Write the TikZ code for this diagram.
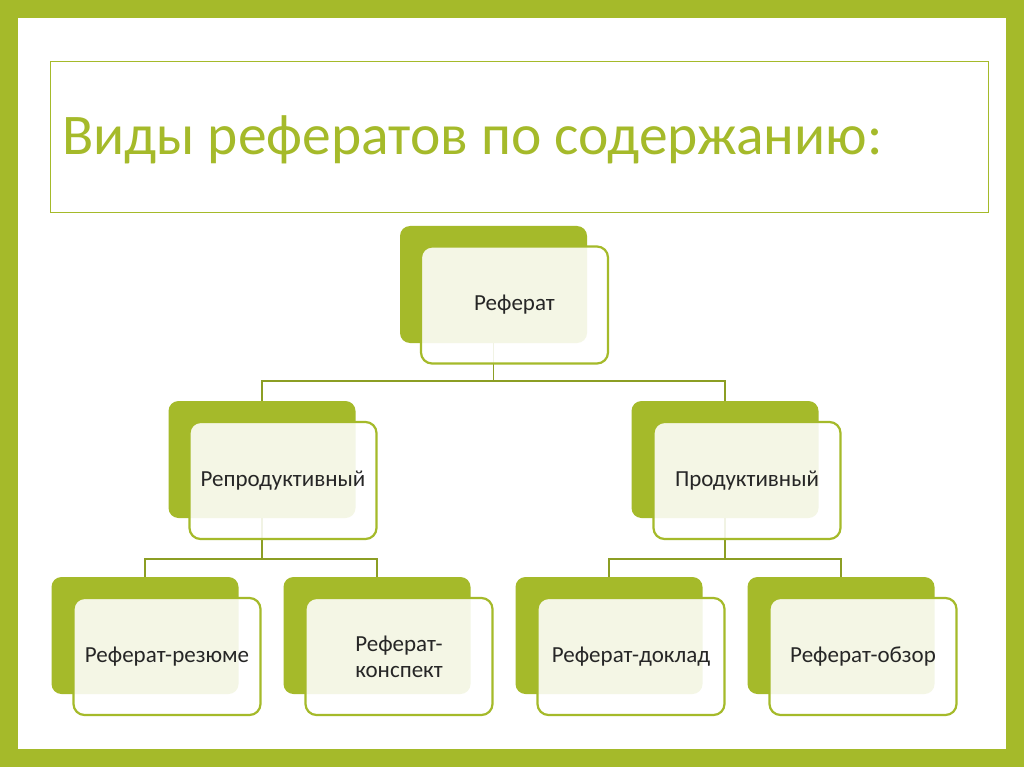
\documentclass[tikz,border=0pt]{standalone}
\usepackage{fontspec}
\setmainfont{Carlito}
\usepackage{tikz}
\usetikzlibrary{positioning}
\definecolor{leaf}{RGB}{165,186,42}

\begin{document}
\begin{tikzpicture}[
    x=1pt, y=-1pt,
    back/.style={rectangle, fill=leaf, rounded corners=10pt, minimum width=187pt, minimum height=117pt, inner sep=0pt},
    front/.style={rectangle, draw=leaf, line width=2.2pt, fill=white, fill opacity=0.88, text opacity=1, rounded corners=11pt, minimum width=187pt, minimum height=117pt, font=\fontsize{23}{26}\selectfont, text=black!85, align=center},
    link/.style={draw=leaf!85!black, line width=1.8pt}
]
\useasboundingbox (0,0) rectangle (1024,767);
% frame
\fill[leaf] (0,0) rectangle (1024,767);
\fill[white] (18,18) rectangle (1006,749);
\draw[leaf, line width=1pt] (50,62) rectangle (988,213);
\node[anchor=base west, text=leaf, font=\fontsize{57.5}{62}\selectfont, inner sep=0pt] (title) at (62,155) {Виды рефератов по содержанию:};

% back cards
\node[back] (refB) at (493.5,284.5) {};
\node[back] (repB) at (262,459.5) {};
\node[back] (proB) at (725,459.5) {};
\node[back] (rezB) at (145,635.5) {};
\node[back] (konB) at (377,635.5) {};
\node[back] (dokB) at (609,635.5) {};
\node[back] (obzB) at (841,635.5) {};

% connectors
\draw[link] (refB.south) -- ++(0,38) -| (repB.north);
\draw[link] (refB.south) -- ++(0,38) -| (proB.north);
\draw[link] (repB.south) -- ++(0,41) -| (rezB.north);
\draw[link] (repB.south) -- ++(0,41) -| (konB.north);
\draw[link] (proB.south) -- ++(0,41) -| (dokB.north);
\draw[link] (proB.south) -- ++(0,41) -| (obzB.north);

% front cards
\node[front] (ref) at (514.5,305) {Реферат};
\node[front] (rep) at (283,480.5) {Репродуктивный};
\node[front] (pro) at (747,480.5) {Продуктивный};
\node[front] (rez) at (167,656.5) {Реферат-резюме};
\node[front] (kon) at (399,656.5) {Реферат-\\конспект};
\node[front] (dok) at (631,656.5) {Реферат-доклад};
\node[front] (obz) at (863,656.5) {Реферат-обзор};
\end{tikzpicture}
\end{document}
